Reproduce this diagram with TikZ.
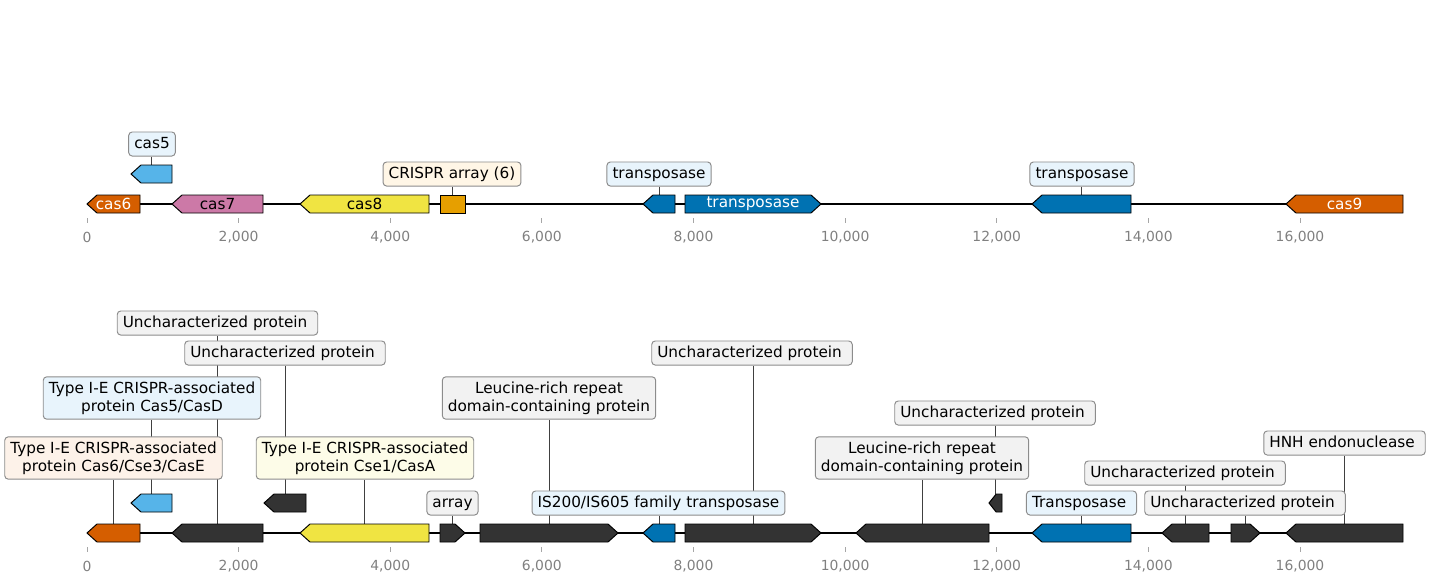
\documentclass[tikz,border=0pt]{standalone}
\usepackage{fontspec}
\setmainfont{DejaVu Sans}
\usetikzlibrary{positioning}
\definecolor{casorange}{HTML}{D55E00}
\definecolor{casblue}{HTML}{56B4E9}
\definecolor{caspink}{HTML}{CC79A7}
\definecolor{casyellow}{HTML}{F0E442}
\definecolor{arrayorange}{HTML}{E69F00}
\definecolor{tnpblue}{HTML}{0072B2}
\definecolor{otherdark}{HTML}{333333}
\definecolor{lblgray}{RGB}{242,242,242}
\definecolor{lblblue}{RGB}{232,244,252}
\definecolor{lblorange}{RGB}{253,242,233}
\definecolor{lblcream}{RGB}{255,246,230}
\definecolor{lblyellow}{RGB}{253,252,232}
\pgfdeclarelayer{bg}
\pgfsetlayers{bg,main}

% genes: name, start, end, track y, fill -- (name) is the top middle, (name-mid) the centre
\newcommand{\geneleft}[5]{%
  \pgfmathsetmacro{\hd}{min(10,0.55*(#3-#2))}%
  \draw[genebox,fill=#5] (#2,#4) -- (#2+\hd,#4-9) -- (#3,#4-9) -- (#3,#4+9) -- (#2+\hd,#4+9) -- cycle;
  \coordinate (#1) at ({(#2+#3)/2},#4-9);
  \coordinate (#1-mid) at ({(#2+#3)/2},#4);}
\newcommand{\generight}[5]{%
  \pgfmathsetmacro{\hd}{min(10,0.55*(#3-#2))}%
  \draw[genebox,fill=#5] (#3,#4) -- (#3-\hd,#4-9) -- (#2,#4-9) -- (#2,#4+9) -- (#3-\hd,#4+9) -- cycle;
  \coordinate (#1) at ({(#2+#3)/2},#4-9);
  \coordinate (#1-mid) at ({(#2+#3)/2},#4);}
\newcommand{\geneplain}[5]{%
  \draw[genebox,fill=#5] (#2,#4-9) rectangle (#3,#4+9);
  \coordinate (#1) at ({(#2+#3)/2},#4-9);}
% backbone and position scale of one track
\newcommand{\track}[1]{%
  \draw[backbone] (87,#1) -- (1403,#1);
  \foreach \k/\lab in {0/0,1/{2,000},2/{4,000},3/{6,000},4/{8,000},5/{10,000},6/{12,000},7/{14,000},8/{16,000}}{
    \draw[tick] ({87+\k*151.62},#1+14) -- ({87+\k*151.62},#1+19);
    \node[ticklbl] at ({87+\k*151.62},#1+33) {\lab};
  }}

\begin{document}
\begin{tikzpicture}[x=0.72pt,y=-0.72pt,
  genebox/.style={draw=black,line width=0.7pt,line join=miter},
  backbone/.style={line width=1.4pt},
  tick/.style={draw=gray!70,line width=0.6pt},
  ticklbl/.style={font=\fontsize{10}{12}\selectfont,text=gray},
  genetxt/.style={font=\fontsize{11}{13}\selectfont,inner sep=0pt},
  lbl/.style={draw=gray!90,fill=lblgray,rounded corners=2.5pt,line width=0.7pt,
    font=\fontsize{11}{13}\selectfont,align=center,inner xsep=4pt,inner ysep=3.4pt,
    text height=8.2pt,text depth=2.3pt},
  lbltwo/.style={lbl,text height=,text depth=},
  leader/.style={draw=black!75,line width=0.55pt}]
\useasboundingbox (0,0) rectangle (1430,582);

% --- upper map
\track{204}
\geneleft{cas6}{87}{140}{204}{casorange}
\geneleft{cas5}{131}{172}{174}{casblue}
\geneleft{cas7}{172}{263}{204}{caspink}
\geneleft{cas8}{300}{429}{204}{casyellow}
\geneplain{crA}{440}{465}{204}{arrayorange}
\geneleft{tnpA}{643}{675}{204}{tnpblue}
\generight{tnpB}{685}{821}{204}{tnpblue}
\geneleft{tnpC}{1032}{1131}{204}{tnpblue}
\geneleft{cas9}{1286}{1403}{204}{casorange}
\node[genetxt,text=white] (t-cas6) at (cas6-mid) {cas6};
\node[genetxt] (t-cas7) at (cas7-mid) {cas7};
\node[genetxt] (t-cas8) at (cas8-mid) {cas8};
\node[genetxt,text=white] (t-tnpB) at (tnpB-mid) {transposase};
\node[genetxt,text=white] (t-cas9) at (cas9-mid) {cas9};

\node[lbl,fill=lblblue] (l-cas5) at (152,144) {cas5};
\node[lbl,fill=lblcream] (l-crA) at (452,174) {CRISPR array (6)};
\node[lbl,fill=lblblue] (l-tnpA) at (659,174) {transposase};
\node[lbl,fill=lblblue] (l-tnpC) at (1082,174) {transposase};
\begin{pgfonlayer}{bg}
\draw[leader] (l-cas5.south -| cas5) -- (cas5);
\draw[leader] (l-crA.south -| crA) -- (crA);
\draw[leader] (l-tnpA.south -| tnpA) -- (tnpA);
\draw[leader] (l-tnpC.south -| tnpC) -- (tnpC);
\end{pgfonlayer}

% --- lower map
\track{533}
\geneleft{g1}{87}{140}{533}{casorange}
\geneleft{g2}{131}{172}{503}{casblue}
\geneleft{g3}{172}{263}{533}{otherdark}
\geneleft{g4}{264}{306}{503}{otherdark}
\geneleft{g5}{300}{429}{533}{casyellow}
\generight{g6}{440}{465}{533}{otherdark}
\generight{g7}{480}{618}{533}{otherdark}
\geneleft{g8}{643}{675}{533}{tnpblue}
\generight{g9}{685}{821}{533}{otherdark}
\geneleft{g10}{856}{989}{533}{otherdark}
\geneleft{g11}{989}{1002}{503}{otherdark}
\geneleft{g12}{1032}{1131}{533}{tnpblue}
\geneleft{g13}{1162}{1209}{533}{otherdark}
\generight{g14}{1231}{1260}{533}{otherdark}
\geneleft{g15}{1286}{1403}{533}{otherdark}

\node[lbltwo,fill=lblorange] (l1) at (113.5,458) {Type I-E CRISPR-associated\\protein Cas6/Cse3/CasE};
\node[lbltwo,fill=lblblue] (l2) at (152,398) {Type I-E CRISPR-associated\\protein Cas5/CasD};
\node[lbl,align=left] (l3) at (217.5,323) {Uncharacterized protein\ };
\node[lbl,align=left] (l4) at (285,353) {Uncharacterized protein\ };
\node[lbltwo,fill=lblyellow] (l5) at (365,458) {Type I-E CRISPR-associated\\protein Cse1/CasA};
\node[lbl] (l6) at (452.5,503) {array};
\node[lbltwo] (l7) at (549,398) {Leucine-rich repeat\\domain-containing protein};
\node[lbl,fill=lblblue] (l8) at (658.5,503) {IS200/IS605 family transposase};
\node[lbl,align=left] (l9) at (752,353) {Uncharacterized protein\ };
\node[lbltwo] (l10) at (922,458) {Leucine-rich repeat\\domain-containing protein};
\node[lbl,align=left] (l11) at (995,413) {Uncharacterized protein\ };
\node[lbl,fill=lblblue,align=left] (l12) at (1081.5,503) {Transposase\ };
\node[lbl,align=left] (l13) at (1185,473) {Uncharacterized protein\ };
\node[lbl,align=left] (l14) at (1245,503) {Uncharacterized protein\ };
\node[lbl,align=left] (l15) at (1344.5,443) {HNH endonuclease\ };
\begin{pgfonlayer}{bg}
\foreach \i in {1,...,15}
  \draw[leader] (l\i.south -| g\i) -- (g\i);
\end{pgfonlayer}
\end{tikzpicture}
\end{document}
